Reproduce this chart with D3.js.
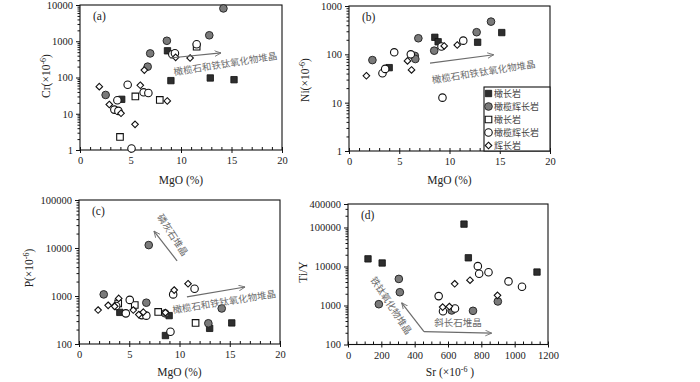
<!DOCTYPE html>
<html>
<head>
<meta charset="utf-8">
<script src="https://cdn.jsdelivr.net/npm/d3@7"></script>
<style>
  body { margin: 0; background: #fff; }
  svg { display: block; }
  .tick text { font-family: "Liberation Serif", "Times New Roman", serif; font-size: 10.5px; fill: #222; }
</style>
</head>
<body>
<div id="chart"></div>
<script>
// ---- data ----
// (a) MgO vs Cr
const aSqFill = [[8.66,545],[9.0,82],[12.9,97],[15.25,87],[4.13,25]];
const aCiFill = [[2.54,33],[6.95,462],[6.7,199],[8.6,1030],[12.8,1460],[14.2,8050]];
const aSqOpen = [[3.96,2.3],[5.48,30],[7.9,24],[11.55,705]];
const aCiOpen = [[4.72,63],[3.7,23.5],[3.4,13],[3.8,12],[6.3,39],[6.77,37.5],[5.1,1.1],[9.14,437],[9.4,465],[11.55,825]];
const aDia = [[1.91,56],[2.9,18],[4.06,10.3],[5.45,5.1],[5.97,61],[6.37,160],[8.64,22.5],[9.47,360],[10.9,345]];

// (b) MgO vs Ni
const bSqFill = [[4.0,53],[8.54,225],[8.87,182],[12.8,178],[15.2,282]];
const bCiFill = [[2.33,76],[6.9,215],[6.55,93],[6.6,80],[8.48,119],[12.7,287],[14.13,475]];
const bSqOpen = [];
const bCiOpen = [[3.33,40.5],[3.6,50],[4.5,110],[6.15,100],[9.2,145],[11.37,192],[9.3,12.7]];
const bDia = [[1.73,36],[5.82,73],[6.22,47.5],[9.47,149],[10.77,156]];

// (c) MgO vs P
const cSqFill = [[4.06,456],[8.6,150],[8.97,390],[13.0,212],[15.2,275]];
const cCiFill = [[2.46,1080],[6.94,11500],[6.7,725],[8.57,435],[12.87,270],[14.2,550]];
const cSqOpen = [[3.9,700],[5.55,650],[7.88,465],[11.6,275]];
const cCiOpen = [[3.7,620],[4.66,435],[5.05,830],[6.25,400],[6.7,390],[9.1,180],[9.37,1080],[11.5,1420]];
const cDia = [[1.9,510],[2.9,640],[3.55,610],[3.95,890],[5.4,510],[5.95,410],[6.4,460],[8.6,450],[9.47,1330],[10.85,1800]];

// (d) Sr vs Ti/Y
const dSqFill = [[120,15700],[205,12300],[696,122000],[722,16700],[1134,7200]];
const dCiFill = [[185,1080],[305,4800],[311,2190],[622,745],[750,730],[899,1270]];
const dSqOpen = [];
const dCiOpen = [[544,1740],[570,713],[642,835],[779,10200],[787,6500],[843,7100],[963,4150],[1044,3030]];
const dDia = [[568,910],[608,940],[640,3600],[732,4450],[897,1820]];

const legendNames = ["橄长岩","橄榄辉长岩","橄长岩","橄榄辉长岩","辉长岩"];
const kinds = ["sqFill","ciFill","sqOpen","ciOpen","dia"];

const mgoMajor = [0,5,10,15,20];
const srMajor = [0,200,400,600,800,1000,1200];

const W = 700, H = 382;
const svg = d3.select("#chart").append("svg").attr("width", W).attr("height", H);

const serif = '"Liberation Serif", "Times New Roman", serif';
const cjk = '"Noto Sans CJK SC", sans-serif';
const annoCol = "#6b6b6b";

svg.append("defs").append("marker")
    .attr("id", "arr").attr("viewBox", "0 -5 10 10")
    .attr("refX", 9).attr("refY", 0)
    .attr("markerWidth", 7).attr("markerHeight", 7)
    .attr("markerUnits", "userSpaceOnUse")
    .attr("orient", "auto")
  .append("path").attr("d", "M0,-4L9,0L0,4")
    .attr("fill", "none").attr("stroke", annoCol).attr("stroke-width", 1.2);

function logMinor(lo, hi) {
    const out = [];
    for (let e = Math.floor(Math.log10(lo)); e <= Math.ceil(Math.log10(hi)); e++) {
        for (let m = 2; m <= 9; m++) {
            const v = m * Math.pow(10, e);
            if (v > lo && v < hi) out.push(v);
        }
    }
    return out;
}

function drawMarks(g, pts, kind, sx, sy) {
    const sel = g.append("g").selectAll("path").data(pts).enter().append("path")
        .attr("transform", d => `translate(${sx(d[0])},${sy(d[1])})`);
    if (kind === "sqFill") {
        sel.attr("d", "M-3.2,-3.2H3.2V3.2H-3.2Z").attr("fill", "#2e2e2e").attr("stroke", "#111").attr("stroke-width", 0.8);
    } else if (kind === "ciFill") {
        sel.attr("d", d3.symbol(d3.symbolCircle, 46)()).attr("fill", "#7a7a7a").attr("stroke", "#2a2a2a").attr("stroke-width", 1);
    } else if (kind === "sqOpen") {
        sel.attr("d", "M-3.3,-3.3H3.3V3.3H-3.3Z").attr("fill", "#fff").attr("stroke", "#111").attr("stroke-width", 1.1);
    } else if (kind === "ciOpen") {
        sel.attr("d", d3.symbol(d3.symbolCircle, 44)()).attr("fill", "#fff").attr("stroke", "#111").attr("stroke-width", 1.1);
    } else {
        sel.attr("d", "M0,-3.3L3.3,0L0,3.3L-3.3,0Z").attr("fill", "#fff").attr("stroke", "#111").attr("stroke-width", 1.1);
    }
}

function yTitle(x, y, main) {
    const t = svg.append("text").attr("transform", `translate(${x},${y}) rotate(-90)`)
        .attr("text-anchor", "middle").style("font-family", serif).style("font-size", "11.5px").attr("fill", "#222");
    t.append("tspan").text(main + "(×10");
    t.append("tspan").attr("dy", -4).style("font-size", "8px").text("-6");
    t.append("tspan").attr("dy", 4).text(")");
}

function panel(cfg) {
    const sx = d3.scaleLinear().domain(cfg.xDomain).range(cfg.xRange);
    const sy = d3.scaleLog().domain(cfg.yDomain).range(cfg.yRange);
    const g = svg.append("g");
    const [x0, x1] = cfg.xRange, [y0, y1] = [cfg.yRange[1], cfg.yRange[0]];

    // x minor (inside) and major ticks
    g.append("g").attr("transform", `translate(0,${y1})`)
        .call(d3.axisTop(sx).tickValues(cfg.xMinor).tickSize(3).tickFormat(""))
        .call(a => a.select(".domain").remove());
    g.append("g").attr("transform", `translate(0,${y1})`)
        .call(d3.axisBottom(sx).tickValues(cfg.xMajor).tickSizeInner(3).tickSizeOuter(0).tickPadding(4).tickFormat(d3.format("d")))
        .call(a => a.select(".domain").remove());

    // y axis log
    g.append("g").attr("transform", `translate(${x0},0)`)
        .call(d3.axisLeft(sy).tickValues(logMinor(cfg.yDomain[0], cfg.yDomain[1])).tickSize(2.5).tickFormat(""))
        .call(a => a.select(".domain").remove());
    g.append("g").attr("transform", `translate(${x0},0)`)
        .call(d3.axisLeft(sy).tickValues(cfg.yMajor).tickSizeInner(4).tickSizeOuter(0).tickPadding(3).tickFormat(d3.format("d")))
        .call(a => a.select(".domain").remove());

    g.selectAll(".tick line").attr("stroke", "#111");

    g.append("rect").attr("x", x0).attr("y", y0).attr("width", x1 - x0).attr("height", y1 - y0)
        .attr("fill", "none").attr("stroke", "#111").attr("stroke-width", 1.1);

    g.append("text").attr("x", x0 + 13).attr("y", y0 + 15).text(cfg.label)
        .style("font-family", serif).style("font-size", "11.5px").attr("fill", "#222");

    g.append("text").attr("x", (x0 + x1) / 2).attr("y", cfg.xTitleY).attr("text-anchor", "middle")
        .style("font-family", serif).style("font-size", "11.5px").attr("fill", "#222")
        .text(cfg.xTitle);

    cfg.series.forEach((pts, i) => drawMarks(g, pts, kinds[i], sx, sy));
    return { g, sx, sy };
}

function arrow(p, from, to) {
    p.g.append("line")
        .attr("x1", p.sx(from[0])).attr("y1", p.sy(from[1]))
        .attr("x2", p.sx(to[0])).attr("y2", p.sy(to[1]))
        .attr("stroke", annoCol).attr("stroke-width", 1.2).attr("marker-end", "url(#arr)");
}

function note(p, at, angle, txt) {
    p.g.append("text")
        .attr("transform", `translate(${p.sx(at[0])},${p.sy(at[1])}) rotate(${angle})`)
        .attr("text-anchor", "middle").attr("dy", "0.35em")
        .style("font-family", cjk).style("font-size", "9.5px").attr("fill", annoCol)
        .text(txt);
}

const pa = panel({
    xDomain: [0, 20], xRange: [80, 282], yDomain: [1, 10000], yRange: [150, 5],
    xMajor: mgoMajor, xMinor: d3.range(0, 21, 1), yMajor: [1, 10, 100, 1000, 10000],
    label: "(a)", xTitle: "MgO (%)", xTitleY: 184,
    series: [aSqFill, aCiFill, aSqOpen, aCiOpen, aDia]
});
yTitle(50, 76, "Cr");
arrow(pa, [8.9, 345], [13.96, 475]);
note(pa, [14.4, 236], -9, "橄榄石和铁钛氧化物堆晶");

const pb = panel({
    xDomain: [0, 20], xRange: [349, 550], yDomain: [1, 1000], yRange: [151, 6],
    xMajor: mgoMajor, xMinor: d3.range(0, 21, 1), yMajor: [1, 10, 100, 1000],
    label: "(b)", xTitle: "MgO (%)", xTitleY: 184,
    series: [bSqFill, bCiFill, bSqOpen, bCiOpen, bDia]
});
yTitle(309, 80, "Ni");
arrow(pb, [8.06, 66], [14.4, 98]);
note(pb, [13.4, 43], -9, "橄榄石和铁钛氧化物堆晶");

// legend inside (b)
const lg = svg.append("g");
lg.append("rect").attr("x", 484).attr("y", 87).attr("width", 66).attr("height", 64)
    .attr("fill", "#fff").attr("stroke", "#111").attr("stroke-width", 1.1);
legendNames.forEach((name, i) => {
    const yy = 93.5 + i * 13;
    drawMarks(lg, [[0, 0]], kinds[i], () => 488.5, () => yy);
    lg.append("text").attr("x", 494).attr("y", yy).attr("dy", "0.35em")
        .style("font-family", cjk).style("font-size", "9px").attr("fill", "#444").text(name);
});

const pc = panel({
    xDomain: [0, 20], xRange: [79, 280], yDomain: [100, 100000], yRange: [344, 200],
    xMajor: mgoMajor, xMinor: d3.range(0, 21, 1), yMajor: [100, 1000, 10000, 100000],
    label: "(c)", xTitle: "MgO (%)", xTitleY: 376,
    series: [cSqFill, cCiFill, cSqOpen, cCiOpen, cDia]
});
yTitle(33, 268, "P");
arrow(pc, [9.76, 5400], [7.46, 22500]);
note(pc, [9.3, 18600], 57, "磷灰石堆晶");
arrow(pc, [10.74, 960], [16.52, 1540]);
note(pc, [14.45, 750], -9, "橄榄石和铁钛氧化物堆晶");

const pd = panel({
    xDomain: [0, 1200], xRange: [348, 548], yDomain: [100, 400000], yRange: [344.5, 204],
    xMajor: srMajor, xMinor: d3.range(0, 1201, 50), yMajor: [100, 1000, 10000, 100000, 400000],
    label: "(d)", xTitle: "", xTitleY: 376,
    series: [dSqFill, dCiFill, dSqOpen, dCiOpen, dDia]
});
{
    const t = svg.append("text").attr("x", 450).attr("y", 376).attr("text-anchor", "middle")
        .style("font-family", serif).style("font-size", "11.5px").attr("fill", "#222");
    t.append("tspan").text("Sr (×10");
    t.append("tspan").attr("dy", -4).style("font-size", "8px").text("-6");
    t.append("tspan").attr("dy", 4).text(" )");
}
svg.append("text").attr("transform", "translate(307,272) rotate(-90)").attr("text-anchor", "middle")
    .style("font-family", serif).style("font-size", "11.5px").attr("fill", "#222").text("Ti/Y");
arrow(pd, [456, 215], [322, 1175]);
arrow(pd, [456, 215], [862, 195]);
note(pd, [258, 1000], 57, "铁钛氧化物堆晶");
note(pd, [660, 360], 0, "斜长石堆晶");
</script>
</body>
</html>
